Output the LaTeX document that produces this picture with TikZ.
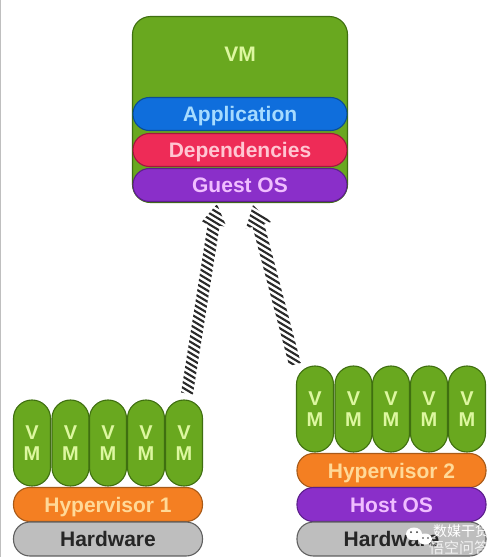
\documentclass[tikz,border=0pt]{standalone}
\usepackage{fontspec}
\setmainfont{Liberation Sans}
\newfontfamily\cjkwm{Noto Sans CJK SC}
\usetikzlibrary{calc}
\definecolor{cgreen}{HTML}{69A81F}
\definecolor{cgreenb}{HTML}{3F6F10}
\definecolor{cblue}{HTML}{0F6EDC}
\definecolor{cblueb}{HTML}{0B4C96}
\definecolor{cred}{HTML}{EE2B57}
\definecolor{credb}{HTML}{A01840}
\definecolor{cpurple}{HTML}{8A2FC9}
\definecolor{cpurpleb}{HTML}{5C1F8C}
\definecolor{corange}{HTML}{F47F22}
\definecolor{corangeb}{HTML}{A85A18}
\definecolor{cgray}{HTML}{BEBEBE}
\definecolor{cgrayb}{HTML}{606060}
\definecolor{tgreen}{HTML}{DDF7A0}
\definecolor{tblue}{HTML}{A6DBFF}
\definecolor{tred}{HTML}{FFC6D2}
\definecolor{tpurple}{HTML}{F0BEFF}
\definecolor{torange}{HTML}{FFD998}
\definecolor{stripe}{HTML}{2A2A2A}
\tikzset{
  layer/.style={draw,line width=1.1pt,rounded corners=16.4pt,inner sep=0pt,
    text height=15pt,text depth=0pt,font=\bfseries\fontsize{21}{21}\selectfont},
  big/.style={layer,minimum width=214pt,minimum height=33pt},
  small/.style={layer,minimum width=189pt,minimum height=34pt},
  vmbox/.style={draw=cgreenb,fill=cgreen,line width=1.1pt,rounded corners=18pt,minimum width=215pt,minimum height=186pt,inner sep=0pt},
  vmpill/.style={draw=cgreenb,fill=cgreen,line width=1.1pt,rounded corners=18.4pt,minimum width=37pt,minimum height=86pt,inner sep=0pt,
    align=center,text=tgreen,font=\bfseries\fontsize{20}{21}\selectfont},
  appl/.style={fill=cblue,draw=cblueb,text=tblue},
  deps/.style={fill=cred,draw=credb,text=tred},
  guest/.style={fill=cpurple,draw=cpurpleb,text=tpurple},
  hyper/.style={fill=corange,draw=corangeb,text=torange},
  hardw/.style={fill=cgray,draw=cgrayb,text=black!85},
  stripes/.style={line width=2.1pt,stripe},
}
\newcommand{\hatcharrow}[2]{%
  \begin{scope}
    \coordinate (sb) at ($(#2)!21pt!(#1)$);
    \clip (#2) -- ($(sb)!13pt!90:(#2)$) -- ($(sb)!6pt!90:(#2)$) -- ($(#1)!6pt!90:(#2)$)
      -- ($(#1)!6pt!-90:(#2)$) -- ($(sb)!6pt!-90:(#2)$) -- ($(sb)!13pt!-90:(#2)$) -- cycle;
    \foreach \k in {0,...,70} {
      \draw[stripes] (150,{60+\k*5.6}) -- ++(170,102);
    }
  \end{scope}}
\begin{document}
\begin{tikzpicture}[x=1pt,y=-1pt]
\useasboundingbox (0,0) rectangle (500,557);
\fill[white] (0,0) rectangle (500,557);
\draw[black!25,line width=1pt] (0.5,0) -- (0.5,557);

% top VM stack
\node[vmbox] (vm) at (240,109.5) {};
\node[font=\bfseries\fontsize{21}{21}\selectfont,text=tgreen,inner sep=0pt,text height=15pt,text depth=0pt] (vmlabel) at (240,53.5) {VM};
\node[big,appl] (app) at (240,114) {Application};
\node[big,deps] (dep) at (240,150) {Dependencies};
\node[big,guest] (gos) at (240,185) {Guest OS};

% left stack
\foreach \n/\x in {1/32,2/70.5,3/108,4/146,5/184}
  \node[vmpill] (l\n) at (\x,443) {V\\M};
\node[small,hyper] (hv1) at (108,504.5) {Hypervisor 1};
\node[small,hardw] (hwl) at (108,539) {Hardware};

% right stack
\foreach \n/\x in {1/315,2/353.5,3/391,4/429,5/467}
  \node[vmpill] (r\n) at (\x,409) {V\\M};
\node[small,hyper] (hv2) at (391.5,470.5) {Hypervisor 2};
\node[small,guest] (hos) at (391.5,504.5) {Host OS};
\node[small,hardw] (hwr) at (391.5,539) {Hardware};

% hatched arrows
\coordinate (t1) at ($(l5.north)+(3,-6)$);
\coordinate (h1) at ($(gos.south)+(-23,2)$);
\coordinate (t2) at ($(r1.north)+(-20,-1)$);
\coordinate (h2) at ($(gos.south)+(13,3)$);
\hatcharrow{t1}{h1}
\hatcharrow{t2}{h2}

% watermark
\fill[white] (414,534) ellipse (8pt and 6.5pt);
\fill[white] (425,539) ellipse (7pt and 5.5pt);
\fill[black!80] (411,532) circle (1pt) (417,532) circle (1pt) (423,538) circle (0.8pt) (428,538) circle (0.8pt);
\node[white,font=\cjkwm\fontsize{14}{14}\selectfont,inner sep=0pt] (wm1) at (461,531) {数媒干货};
\node[white,font=\cjkwm\fontsize{15}{15}\selectfont,inner sep=0pt,opacity=.8] (wm2) at (459,548) {悟空问答};
\end{tikzpicture}
\end{document}
